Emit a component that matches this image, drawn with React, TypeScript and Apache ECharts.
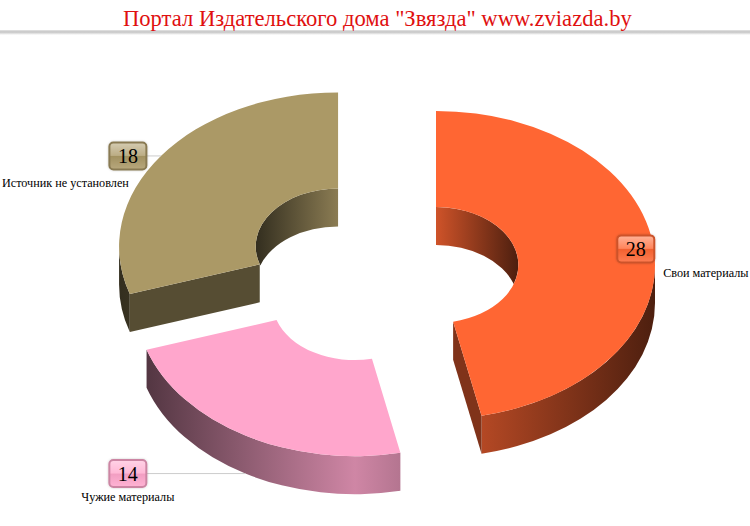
import React, { useEffect, useRef } from "react";
import * as echarts from "echarts";

const titleText = 'Портал Издательского дома "Звязда" www.zviazda.by';
const categories = ["Свои материалы", "Чужие материалы", "Источник не установлен"];
const values = [28, 14, 18];
const colors = ["#FF6633", "#FFA6CC", "#AB9966"];

// geometry of the tilted doughnut
const CX = 382, CY = 269, RX = 219, RY = 154, INNER = 0.376, DEPTH = 38, EXPLODE = 54.3, TILT = 0.706;
// label layout per slice: box centre relative to the anchor, caption position relative to the box
const boxDx = [-18, -117.5, -33];
const captionDx = [70, 0, -62.5];
const captionDy = [24, 23, 27];

const rad = (d: number) => (d * Math.PI) / 180;
const rgb = (hex: string) => [1, 3, 5].map((i) => parseInt(hex.slice(i, i + 2), 16));
const shade = (hex: string, f: number) => {
  const c = rgb(hex).map((v) => Math.round(v * f));
  return `rgb(${c[0]},${c[1]},${c[2]})`;
};
const tint = (hex: string, f: number) => {
  const c = rgb(hex).map((v) => Math.round(v + (255 - v) * f));
  return `rgb(${c[0]},${c[1]},${c[2]})`;
};

function renderSlice(params: any) {
  const i = params.dataIndex;
  const total = values.reduce((a, b) => a + b, 0);
  const a0 = (values.slice(0, i).reduce((a, b) => a + b, 0) / total) * 360;
  const a1 = a0 + (values[i] / total) * 360;
  const mid = (a0 + a1) / 2;
  const cx = CX + EXPLODE * Math.sin(rad(mid));
  const cy = CY - EXPLODE * TILT * Math.cos(rad(mid));
  const base = colors[i];
  const ry = RY * INNER;

  const pt = (a: number, k: number, d = 0) => [
    cx + RX * k * Math.sin(rad(a)),
    cy - RY * k * Math.cos(rad(a)) + d,
  ];
  const arc = (from: number, to: number, k: number, d = 0) => {
    const p = pt(to, k, d);
    const large = Math.abs(to - from) > 180 ? 1 : 0;
    const sweep = to > from ? 1 : 0;
    return `A ${RX * k} ${RY * k} 0 ${large} ${sweep} ${p[0]} ${p[1]}`;
  };
  const mv = (p: number[]) => `M ${p[0]} ${p[1]}`;
  const ln = (p: number[]) => `L ${p[0]} ${p[1]}`;

  const wallFill = (from: number, to: number, k: number) => {
    const R = RX * k;
    const xs: number[] = [];
    for (let a = from; a <= to; a += 0.5) xs.push(pt(a, k)[0]);
    xs.push(pt(to, k)[0]);
    const xmin = Math.min(...xs), xmax = Math.max(...xs);
    const f = (x: number) => 0.81 - 0.51 * Math.min(1, Math.abs(x - cx) / R);
    const span = Math.max(1, xmax - xmin);
    const stops = [{ offset: 0, color: shade(base, f(xmin)) }];
    if (cx > xmin && cx < xmax) stops.push({ offset: (cx - xmin) / span, color: shade(base, f(cx)) });
    stops.push({ offset: 1, color: shade(base, f(xmax)) });
    return new echarts.graphic.LinearGradient(xmin, 0, xmax, 0, stops, true);
  };

  const children: any[] = [];
  const addPath = (d: string, fill: any) =>
    children.push({ type: "path", shape: { pathData: d }, style: { fill, stroke: null } });

  // inner wall: the far side of the hole, seen through the top opening
  const phi = (Math.acos(-DEPTH / 2 / ry) * 180) / Math.PI;
  const psi = 180 - phi;
  [
    [0, phi, 0, psi],
    [360 - phi, 360, 360 - psi, 360],
  ].forEach(([tl, th, bl, bh]) => {
    const lo = Math.max(a0, tl), hi = Math.min(a1, th);
    if (hi - lo < 2) return;
    const blo = Math.max(a0, bl), bhi = Math.min(a1, bh);
    addPath(
      [mv(pt(lo, INNER)), arc(lo, hi, INNER), ln(pt(bhi, INNER, DEPTH)), arc(bhi, blo, INNER, DEPTH), "Z"].join(" "),
      wallFill(lo, hi, INNER)
    );
  });

  // outer wall: the near half of the rim
  const wl = Math.max(a0, 90), wh = Math.min(a1, 270);
  if (wh > wl) {
    addPath(
      [mv(pt(wl, 1)), arc(wl, wh, 1), ln(pt(wh, 1, DEPTH)), arc(wh, wl, 1, DEPTH), "Z"].join(" "),
      wallFill(wl, wh, 1)
    );
  }

  // cut faces turned towards the viewer
  const cap = (a: number) =>
    addPath(
      [mv(pt(a, INNER)), ln(pt(a, 1)), ln(pt(a, 1, DEPTH)), ln(pt(a, INNER, DEPTH)), "Z"].join(" "),
      shade(base, 0.5)
    );
  if (Math.cos(rad(a0 - 90)) < -0.01) cap(a0);
  if (Math.cos(rad(a1 + 90)) < -0.01) cap(a1);

  // top face
  addPath(
    [mv(pt(a0, 1)), arc(a0, a1, 1), ln(pt(a1, INNER)), arc(a1, a0, INNER), "Z"].join(" "),
    base
  );

  // leader, value box and caption
  const lower = Math.cos(rad(mid)) < 0;
  const anchor = pt(mid, 1, lower ? DEPTH : 0);
  const bx = anchor[0] + boxDx[i];
  const by = anchor[1];
  children.push({
    type: "line",
    shape: { x1: anchor[0], y1: by, x2: bx, y2: by },
    style: { stroke: "#cccccc", lineWidth: 1 },
  });
  const bw = 37, bh = 27;
  children.push({
    type: "rect",
    shape: { x: bx - bw / 2, y: by - bh / 2, width: bw, height: bh, r: 4 },
    style: {
      fill: new echarts.graphic.LinearGradient(0, 0, 0, 1, [
        { offset: 0, color: tint(base, 0.5) },
        { offset: 0.48, color: tint(base, 0.2) },
        { offset: 0.52, color: shade(base, 0.95) },
        { offset: 1, color: tint(base, 0.15) },
      ]),
      stroke: shade(base, 0.8),
      lineWidth: 2,
      shadowBlur: 2,
      shadowColor: "rgba(0,0,0,0.2)",
    },
  });
  children.push({
    type: "text",
    style: {
      text: String(values[i]),
      x: bx,
      y: by + 0.5,
      align: "center",
      verticalAlign: "middle",
      fill: "#000000",
      font: '20px "Liberation Serif"',
    },
  });
  children.push({
    type: "text",
    style: {
      text: categories[i],
      x: bx + captionDx[i],
      y: by + captionDy[i],
      align: "center",
      verticalAlign: "middle",
      fill: "#000000",
      font: '12.2px "Liberation Serif"',
    },
  });

  return { type: "group", children };
}

export default function App() {
  const ref = useRef<HTMLDivElement>(null);
  useEffect(() => {
    const chart = echarts.init(ref.current!, undefined, { renderer: "svg" });
    chart.setOption({
      animation: false,
      backgroundColor: "#ffffff",
      title: {
        text: titleText,
        left: 123,
        top: 7,
        padding: 0,
        textStyle: { color: "#e01010", fontSize: 22.6, fontWeight: "normal", fontFamily: "Liberation Serif" },
      },
      graphic: [
        {
          type: "rect",
          shape: { x: 0, y: 30, width: 750, height: 5 },
          style: {
            fill: new echarts.graphic.LinearGradient(0, 0, 0, 1, [
              { offset: 0, color: "#e4e4e4" },
              { offset: 0.4, color: "#c4c4c4" },
              { offset: 1, color: "#ffffff" },
            ]),
          },
        },
      ],
      series: [
        {
          type: "custom",
          coordinateSystem: "none",
          silent: true,
          data: values,
          renderItem: renderSlice,
        },
      ],
    });
    return () => chart.dispose();
  }, []);
  return <div ref={ref} style={{ position: "fixed", left: 0, top: 0, width: 750, height: 526 }} />;
}
